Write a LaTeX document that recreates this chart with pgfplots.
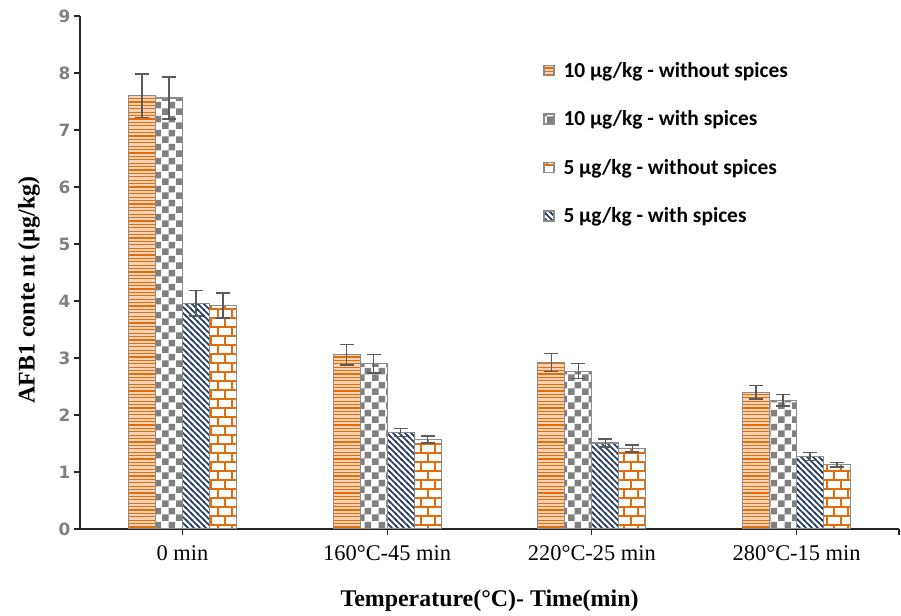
\documentclass[border=0pt]{standalone}
\usepackage{pgfplots}
\pgfplotsset{compat=1.18}
\usepackage{pgfplotstable}
\usepackage{fontspec}
\setmainfont{Liberation Serif}
\newfontfamily\legfont{Carlito}
\newfontfamily\tickfont{DejaVu Sans}
\usetikzlibrary{patterns}

\definecolor{orng}{HTML}{E46C0A}
\definecolor{peach}{HTML}{F9D3B6}
\definecolor{chk}{HTML}{808080}
\definecolor{navy}{HTML}{1F3864}
\definecolor{brd}{HTML}{8C8C8C}
\definecolor{errc}{HTML}{5A5A5A}

\pgfdeclarepatternformonly{myhlines}{\pgfqpoint{-1bp}{0bp}}{\pgfqpoint{5bp}{3.4bp}}{\pgfqpoint{4bp}{3.4bp}}{%
  \pgfpathrectangle{\pgfqpoint{-1bp}{0bp}}{\pgfqpoint{6bp}{1.2bp}}\pgfusepath{fill}}
\pgfdeclarepatternformonly{mychecker}{\pgfpointorigin}{\pgfqpoint{13.5bp}{13.5bp}}{\pgfqpoint{13.5bp}{13.5bp}}{%
  \pgfpathrectangle{\pgfpointorigin}{\pgfqpoint{6.75bp}{6.75bp}}%
  \pgfpathrectangle{\pgfqpoint{6.75bp}{6.75bp}}{\pgfqpoint{6.75bp}{6.75bp}}\pgfusepath{fill}}
\pgfdeclarepatternformonly{mynwlines}{\pgfqpoint{-1bp}{-1bp}}{\pgfqpoint{7bp}{7bp}}{\pgfqpoint{6bp}{6bp}}{%
  \pgfsetlinewidth{1.7bp}%
  \pgfpathmoveto{\pgfqpoint{-1bp}{7bp}}\pgfpathlineto{\pgfqpoint{7bp}{-1bp}}\pgfusepath{stroke}}
\pgfdeclarepatternformonly{mybricks}{\pgfqpoint{-1bp}{-1bp}}{\pgfqpoint{15bp}{19bp}}{\pgfqpoint{14bp}{18bp}}{%
  \pgfsetlinewidth{1.5bp}%
  \pgfpathmoveto{\pgfqpoint{-1bp}{1bp}}\pgfpathlineto{\pgfqpoint{15bp}{1bp}}%
  \pgfpathmoveto{\pgfqpoint{-1bp}{10bp}}\pgfpathlineto{\pgfqpoint{15bp}{10bp}}%
  \pgfpathmoveto{\pgfqpoint{1bp}{1bp}}\pgfpathlineto{\pgfqpoint{1bp}{10bp}}%
  \pgfpathmoveto{\pgfqpoint{8bp}{10bp}}\pgfpathlineto{\pgfqpoint{8bp}{19bp}}%
  \pgfusepath{stroke}}

\pgfplotstableread{
x  a     ae    b     be    c     ce    d     de
0  7.60  0.38  7.56  0.37  3.96  0.22  3.92  0.22
1  3.06  0.18  2.90  0.16  1.69  0.07  1.57  0.06
2  2.92  0.16  2.77  0.13  1.51  0.07  1.41  0.06
3  2.40  0.12  2.26  0.10  1.27  0.07  1.13  0.04
}\datatable

\tikzset{
  s1/.style={draw=brd, line width=1.2bp, fill=peach, postaction={pattern=myhlines, pattern color=orng}},
  s2/.style={draw=brd, line width=1.2bp, fill=white, postaction={pattern=mychecker, pattern color=chk}},
  s3/.style={draw=brd, line width=1.2bp, fill=white, postaction={pattern=mynwlines, pattern color=navy}},
  s4/.style={draw=brd, line width=1.2bp, fill=white, postaction={pattern=mybricks, pattern color=orng}},
}

\begin{document}
\begin{tikzpicture}
\begin{axis}[
  scale only axis, width=819bp, height=513bp,
  xmin=-0.5, xmax=3.5, ymin=0, ymax=9,
  ybar, bar width=27bp,
  axis lines*=left,
  axis line style={line width=1.1bp, black!85},
  xtick={0,1,2,3,3.5},
  xticklabels={0 min, 160°C-45 min, 220°C-25 min, 280°C-15 min, {}},
  ytick={0,1,...,9},
  tick align=outside, major tick length=6bp,
  tick style={line width=1.1bp, black!85},
  xticklabel style={font=\fontsize{22.5}{24}\selectfont, yshift=-7bp},
  yticklabel style={font=\tickfont\bfseries\fontsize{17}{19}\selectfont, text=gray, /pgf/number format/assume math mode=true},
  xlabel={\textbf{Temperature(°C)- Time(min)}},
  ylabel={\textbf{AFB1 conte nt (µg/kg)}},
  xlabel style={font=\fontsize{24}{26}\selectfont},
  ylabel style={font=\fontsize{24}{26}\selectfont, at={(ticklabel cs:0.466)}},
  xlabel shift=22bp,
  ylabel shift=12bp,
  legend style={at={(rel axis cs:0.5655,0.914)}, anchor=north west, draw=none, fill=none,
    font=\legfont\bfseries\fontsize{21.5}{23}\selectfont, row sep=28bp, inner sep=0pt},
  legend cell align=left,
  legend image code/.code={\draw[#1] (0bp,-5bp) rectangle (10bp,5bp);},
  error bars/y dir=both, error bars/y explicit,
  error bars/error bar style={errc, line width=1.5bp},
  error bars/error mark options={rotate=90, errc, mark size=7bp, line width=1.5bp},
]
\addlegendimage{s1}\addlegendentry{\hspace*{7bp}10 µg/kg - without spices}
\addlegendimage{s2}\addlegendentry{\hspace*{7bp}10 µg/kg - with spices}
\addlegendimage{s4}\addlegendentry{\hspace*{7bp}5 µg/kg - without spices}
\addlegendimage{s3}\addlegendentry{\hspace*{7bp}5 µg/kg - with spices}

\addplot[s1, bar shift=-40.5bp, forget plot] table[x=x, y=a, y error=ae] {\datatable};
\addplot[s2, bar shift=-13.5bp, forget plot] table[x=x, y=b, y error=be] {\datatable};
\addplot[s3, bar shift=13.5bp, forget plot] table[x=x, y=c, y error=ce] {\datatable};
\addplot[s4, bar shift=40.5bp, forget plot] table[x=x, y=d, y error=de] {\datatable};
\end{axis}
\pgfresetboundingbox
\path ([shift={(-80bp,-87bp)}]current axis.south west) rectangle ([shift={(2bp,16bp)}]current axis.north east);
\end{tikzpicture}
\end{document}
